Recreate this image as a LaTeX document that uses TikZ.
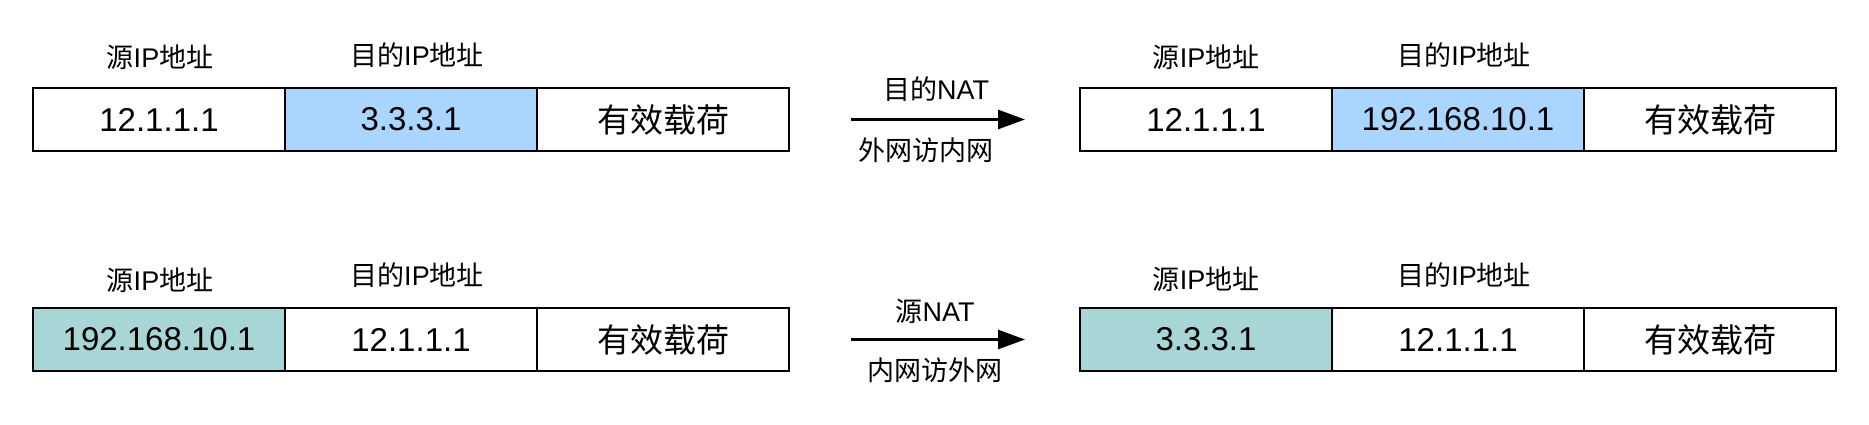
\documentclass[tikz,border=0pt]{standalone}
\usepackage{fontspec}
\setmainfont{Liberation Sans}
\newfontfamily\cjk{Noto Sans CJK SC}
\usetikzlibrary{arrows.meta}
\newcommand{\zh}[1]{{\cjk #1}}
\definecolor{dstblue}{RGB}{170,213,255}
\definecolor{srcteal}{RGB}{168,214,214}
\tikzset{
  cell/.style={draw=black, line width=2.6pt, minimum width=252pt, minimum height=63pt, inner sep=0pt, outer sep=0pt, font=\fontsize{33}{39}\selectfont},
  lbl/.style={inner sep=0pt, font=\fontsize{27}{32}\selectfont},
  natarrow/.style={line width=2.7pt, -{Triangle[length=27pt,width=19pt]}}
}
\begin{document}
\begin{tikzpicture}[x=1pt,y=-1pt]
\useasboundingbox[fill=white] (0,0) rectangle (1869,424);
% top left
\node[cell] (a1) at (159,119.5) {12.1.1.1};
\node[cell, fill=dstblue] (a2) at (411,119.5) {3.3.3.1};
\node[cell] (a3) at (663,119.5) {\zh{有效载荷}};
\node[lbl] (la1) at (160,57) {\zh{源}IP\zh{地址}};
\node[lbl] (la2) at (417,55) {\zh{目的}IP\zh{地址}};
% top right
\node[cell] (b1) at (1206,119.5) {12.1.1.1};
\node[cell, fill=dstblue] (b2) at (1458,119.5) {192.168.10.1};
\node[cell] (b3) at (1710,119.5) {\zh{有效载荷}};
\node[lbl] (lb1) at (1206,57) {\zh{源}IP\zh{地址}};
\node[lbl] (lb2) at (1464,55) {\zh{目的}IP\zh{地址}};
% bottom left
\node[cell, fill=srcteal] (c1) at (159,339.5) {192.168.10.1};
\node[cell] (c2) at (411,339.5) {12.1.1.1};
\node[cell] (c3) at (663,339.5) {\zh{有效载荷}};
\node[lbl] (lc1) at (160,280) {\zh{源}IP\zh{地址}};
\node[lbl] (lc2) at (417,275) {\zh{目的}IP\zh{地址}};
% bottom right
\node[cell, fill=srcteal] (d1) at (1206,339.5) {3.3.3.1};
\node[cell] (d2) at (1458,339.5) {12.1.1.1};
\node[cell] (d3) at (1710,339.5) {\zh{有效载荷}};
\node[lbl] (ld1) at (1206,279) {\zh{源}IP\zh{地址}};
\node[lbl] (ld2) at (1464,275) {\zh{目的}IP\zh{地址}};
% arrows
\draw[natarrow] ([xshift=62pt]a3.east) -- ([xshift=-55pt]b1.west);
\draw[natarrow] ([xshift=62pt]c3.east) -- ([xshift=-55pt]d1.west);
\node[lbl] (t1) at (936,89) {\zh{目的}NAT};
\node[lbl] (t2) at (926,150) {\zh{外网访内网}};
\node[lbl] (t3) at (935,311) {\zh{源}NAT};
\node[lbl] (t4) at (935,370) {\zh{内网访外网}};
\end{tikzpicture}
\end{document}
